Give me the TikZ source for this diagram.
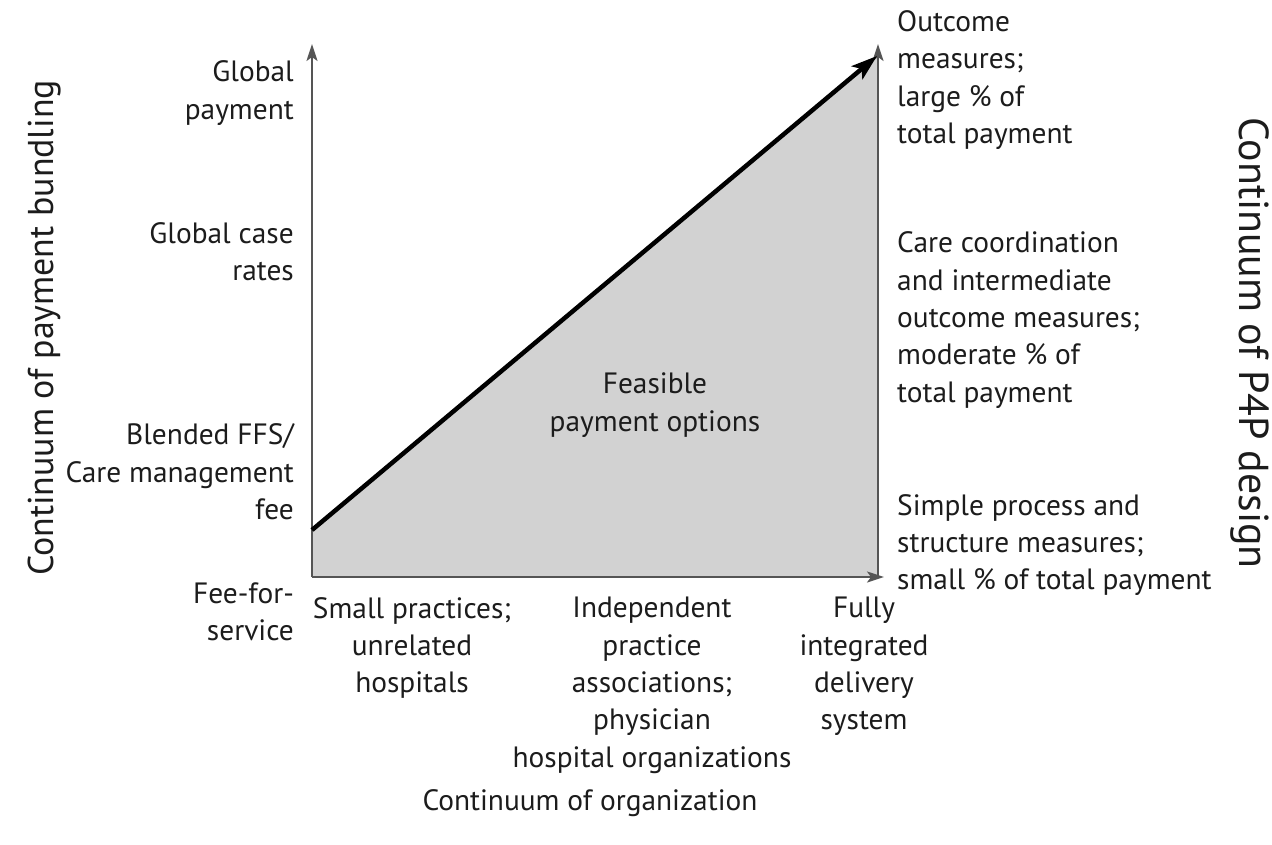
\documentclass[tikz,border=0pt]{standalone}
\usepackage{fontspec}
\setmainfont{PT Sans}
\usetikzlibrary{arrows.meta}
\definecolor{fillgray}{HTML}{D2D2D2}
\definecolor{axisgray}{HTML}{555555}
\definecolor{txt}{HTML}{1C1C1C}
\begin{document}
\begin{tikzpicture}[x=1bp,y=-1bp,
  lbl/.style={font=\fontsize{29.5}{37.5}\selectfont, text=txt, inner sep=0pt},
  vlbl/.style={font=\fontsize{36}{40}\selectfont, text=txt, inner sep=0pt},
  vlblr/.style={font=\fontsize{42}{44}\selectfont, text=txt, inner sep=0pt},
  axis/.style={draw=axisgray, line width=2.2bp, -{Stealth[length=17bp,width=11bp,inset=4bp]}},
  diag/.style={draw=black, line width=4.5bp, -{Stealth[length=26bp,width=17bp,inset=6bp]}}]
\useasboundingbox (0,0) rectangle (1272,845);
\coordinate (O) at (312,577);
\coordinate (L) at (312,530);
\coordinate (T) at (877,56);
\coordinate (BR) at (878,577);
\coordinate (Ltop) at (312,44);
\coordinate (Rtop) at (878,44);
\coordinate (Rend) at (884,577);
\fill[fillgray] (L) -- (T) -- (878,56) -- (BR) -- (O) -- cycle;
\draw[axis] (O) -- (Ltop);
\draw[axis] (BR) -- (Rtop);
\draw[axis] (O) -- (Rend);
\draw[diag] (L) -- (T);
% left labels
\node[lbl, anchor=east, align=right] (gp) at (294,93) {Global\\payment};
\node[lbl, anchor=east, align=right] (gcr) at (294,252) {Global case\\rates};
\node[lbl, anchor=east, align=right] (bl) at (294,472) {Blended FFS/\\Care management\\fee};
\node[lbl, anchor=east, align=right] (ffs) at (294,612) {Fee-for-\\service};
% right labels
\node[lbl, anchor=west, align=left] (om) at (897,80) {Outcome\\measures;\\large \% of\\total payment};
\node[lbl, anchor=west, align=left] (cc) at (897,320) {Care coordination\\and intermediate\\outcome measures;\\moderate \% of\\total payment};
\node[lbl, anchor=west, align=left] (sp) at (897,545) {Simple process and\\structure measures;\\small \% of total payment};
% bottom labels
\node[lbl, anchor=north, align=center] (c1) at (412,597) {Small practices;\\unrelated\\hospitals};
\node[lbl, anchor=north, align=center] (c2) at (652,597) {Independent\\practice\\associations;\\physician\\hospital organizations};
\node[lbl, anchor=north, align=center] (c3) at (864,597) {Fully\\integrated\\delivery\\system};
\node[lbl] (xo) at (590,803) {Continuum of organization};
% center
\node[lbl, align=center] (fp) at (655,405) {Feasible\\payment options};
% vertical labels
\node[vlbl, rotate=90] (yl) at (45,328) {Continuum of payment bundling};
\node[vlblr, rotate=-90] (yr) at (1250,343) {Continuum of P4P design};
\end{tikzpicture}
\end{document}
